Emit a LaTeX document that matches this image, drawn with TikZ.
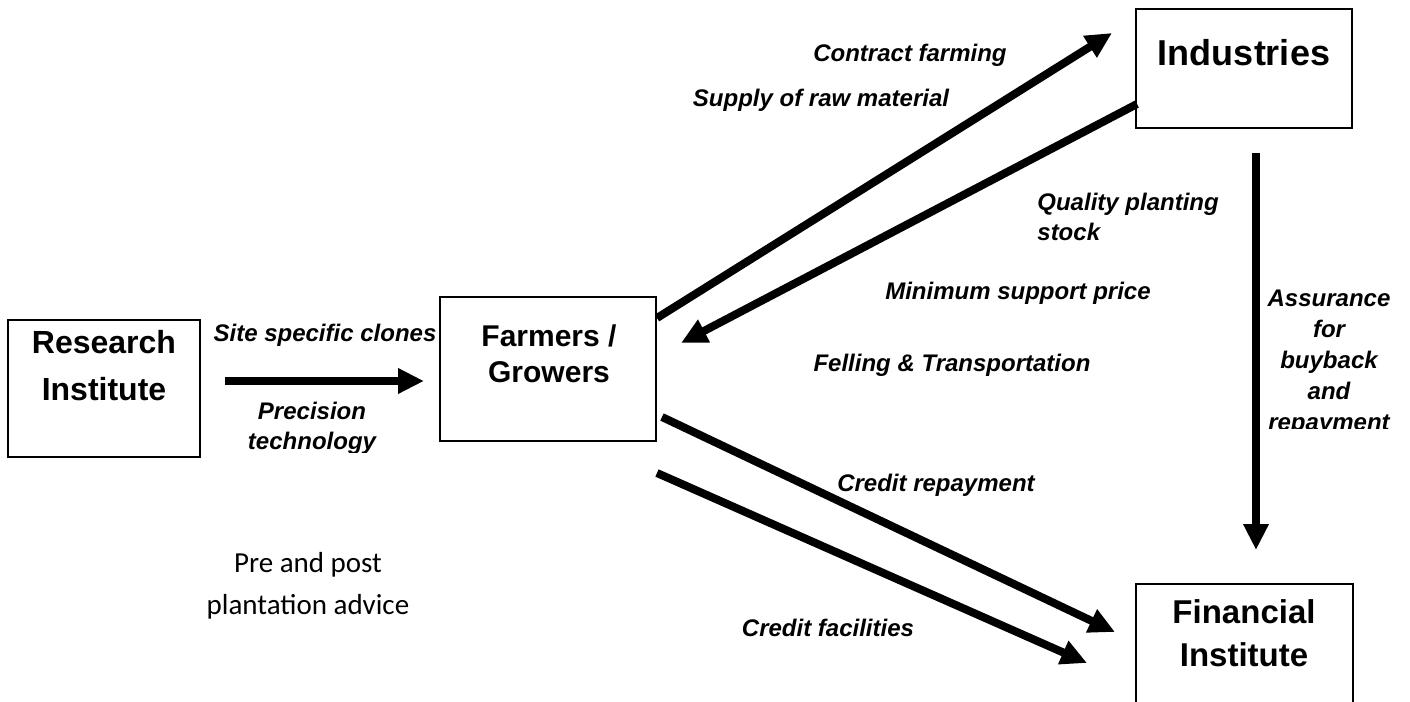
\documentclass[tikz,border=0pt]{standalone}
\usepackage{fontspec}
\setmainfont{Liberation Sans}
\newfontfamily\calibrifont{Carlito}
\usetikzlibrary{arrows.meta}

\begin{document}
\begin{tikzpicture}
  [x=0.5pt,y=-0.5pt,
   box/.style={draw,line width=1pt,rectangle,inner sep=0pt},
   boxtxt/.style={font=\fontsize{16}{23.5}\selectfont\bfseries,align=center,inner sep=0pt},
   lbl/.style={font=\fontsize{12}{15}\selectfont\bfseries\itshape,align=center,inner sep=0pt},
   flow/.style={line width=4pt,-{Triangle[length=13pt,width=12pt]}}]
  \clip (0,0) rectangle (1410,702);

  % boxes
  \node[box,minimum width=96pt,minimum height=68.5pt] (ri) at (104,388.5) {};
  \node[box,minimum width=108pt,minimum height=72pt] (fg) at (548,369) {};
  \node[box,minimum width=108pt,minimum height=59.5pt] (ind) at (1244,68.5) {};
  \node[box,minimum width=108.5pt,minimum height=70pt] (fin) at (1244.5,654) {};

  \node[boxtxt] (ritxt) at (104,366) {Research\\Institute};
  \node[boxtxt,font=\fontsize{15}{18}\selectfont\bfseries] (fgtxt) at (549,354) {Farmers /\\Growers};
  \node[boxtxt,font=\fontsize{18}{22}\selectfont\bfseries] (indtxt) at (1244,53) {Industries};
  \node[boxtxt,font=\fontsize{16.5}{21.5}\selectfont\bfseries] (fintxt) at (1244,633) {Financial\\Institute};

  % arrow ends
  \coordinate (a1s) at (225,381);  \coordinate (a1e) at (424,381);
  \coordinate (a2s) at (657,318);  \coordinate (a2e) at (1112,33);
  \coordinate (a3s) at (1137,104); \coordinate (a3e) at (681,343);
  \coordinate (a4s) at (662,417);  \coordinate (a4e) at (1115,632);
  \coordinate (a5s) at (657,473);  \coordinate (a5e) at (1087,663);
  \coordinate (a6s) at (1256,153); \coordinate (a6e) at (1256,550);

  \draw[flow] (a1s) -- (a1e);
  \draw[flow] (a2s) -- (a2e);
  \draw[flow] (a3s) -- (a3e);
  \draw[flow] (a4s) -- (a4e);
  \draw[flow] (a5s) -- (a5e);
  \draw[flow] (a6s) -- (a6e);

  % labels
  \node[lbl] (clones) at (325,335) {Site specific clones};
  \begin{scope}
    \clip (200,395) rectangle (438,452);
    \node[lbl] (prec) at (312,428) {Precision\\technology};
  \end{scope}
  \node[lbl] (contract) at (910,55) {Contract farming};
  \node[lbl] (supply) at (821,100) {Supply of raw material};
  \node[lbl,align=left,anchor=west] (stock) at (1037,217) {Quality planting\\stock};
  \node[lbl] (msp) at (1018,293) {Minimum support price};
  \node[lbl] (felling) at (952,365) {Felling \& Transportation};
  \node[lbl] (repay) at (936,485) {Credit repayment};
  \node[lbl] (credit) at (828,628) {Credit facilities};
  \begin{scope}
    \clip (1265,280) rectangle (1405,428);
    \node[lbl,font=\fontsize{12}{15.5}\selectfont\bfseries\itshape] (assure) at (1329,362.5) {Assurance\\for\\buyback\\and\\repayment};
  \end{scope}
  \node[align=center,inner sep=0pt,font=\fontsize{14.5}{21}\selectfont\calibrifont] (advice) at (308,586) {Pre and post\\plantation advice};
\end{tikzpicture}
\end{document}
